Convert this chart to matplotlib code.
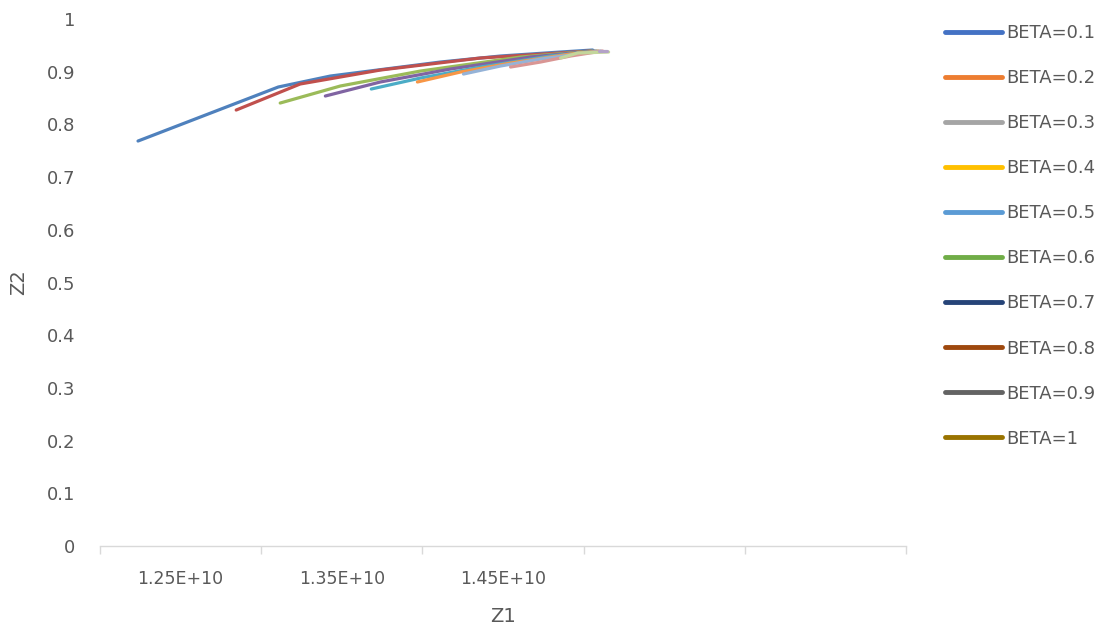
import matplotlib.pyplot as plt
from matplotlib.lines import Line2D
from matplotlib.ticker import FixedLocator, NullFormatter

# Z1 values are in units of 1E+10
labels = ["BETA=0.1", "BETA=0.2", "BETA=0.3", "BETA=0.4", "BETA=0.5",
          "BETA=0.6", "BETA=0.7", "BETA=0.8", "BETA=0.9", "BETA=1"]

z1_b01 = [1.2236, 1.3106, 1.3429, 1.3770, 1.4112, 1.4484, 1.4857, 1.5056]
z2_b01 = [0.7685, 0.8710, 0.8918, 0.9051, 0.9184, 0.9298, 0.9374, 0.9412]
z1_b02 = [1.2845, 1.3242, 1.3739, 1.4360, 1.5043]
z2_b02 = [0.8273, 0.8767, 0.9032, 0.9260, 0.9393]
z1_b03 = [1.3118, 1.3491, 1.3988, 1.4609, 1.5056]
z2_b03 = [0.8406, 0.8729, 0.9013, 0.9279, 0.9393]
z1_b04 = [1.3398, 1.3739, 1.4174, 1.4671, 1.5068]
z2_b04 = [0.8539, 0.8805, 0.9051, 0.9279, 0.9393]
z1_b05 = [1.3683, 1.3988, 1.4360, 1.4795, 1.5081]
z2_b05 = [0.8672, 0.8880, 0.9089, 0.9298, 0.9393]
z1_b06 = [1.3969, 1.4236, 1.4547, 1.4919, 1.5093]
z2_b06 = [0.8805, 0.8994, 0.9165, 0.9336, 0.9393]
z1_b07 = [1.4255, 1.4484, 1.4733, 1.5106]
z2_b07 = [0.8956, 0.9108, 0.9241, 0.9393]
z1_b08 = [1.4547, 1.4733, 1.4919, 1.5118]
z2_b08 = [0.9089, 0.9184, 0.9298, 0.9393]
z1_b09 = [1.4857, 1.4963, 1.5155]
z2_b09 = [0.9260, 0.9355, 0.9374]
z1_b10 = [1.5093, 1.5143]
z2_b10 = [0.9393, 0.9393]

z1_all = [z1_b01, z1_b02, z1_b03, z1_b04, z1_b05, z1_b06, z1_b07, z1_b08, z1_b09, z1_b10]
z2_all = [z2_b01, z2_b02, z2_b03, z2_b04, z2_b05, z2_b06, z2_b07, z2_b08, z2_b09, z2_b10]

x_labels = ["1.25E+10", "1.35E+10", "1.45E+10"]
x_label_pos = [1.25e10, 1.35e10, 1.45e10]

line_colors = ["#4F81BD", "#C0504D", "#9BBB59", "#8064A2", "#4BACC6",
               "#F79646", "#95B3D7", "#D99694", "#C3D69B", "#B3A2C7"]
legend_colors = ["#4472C4", "#ED7D31", "#A5A5A5", "#FFC000", "#5B9BD5",
                 "#70AD47", "#264478", "#9E480E", "#636363", "#997300"]

txt = "#595959"
plt.rcParams['font.family'] = ['DejaVu Sans']

fig = plt.figure(figsize=(11.01, 6.30), dpi=100)
ax = fig.add_axes([0.0908, 0.1333, 0.8229 - 0.0908, 0.9698 - 0.1333])

for xs, ys, c in zip(z1_all, z2_all, line_colors):
    ax.plot([v * 1e10 for v in xs], ys, color=c, lw=2.3,
            solid_capstyle='round', solid_joinstyle='round')

ax.set_xlim(1.2e10, 1.7e10)
ax.set_ylim(0, 1)

# boundary ticks on the axis, labels centred between them
ax.xaxis.set_major_locator(FixedLocator([1.2e10, 1.3e10, 1.4e10, 1.5e10, 1.6e10, 1.7e10]))
ax.xaxis.set_major_formatter(NullFormatter())
ax.set_xticks(x_label_pos, x_labels, minor=True)
ax.tick_params(axis='x', which='major', length=6, width=1, color='#D9D9D9', direction='out')
ax.tick_params(axis='x', which='minor', length=0, pad=17, labelsize=12.5, labelcolor=txt)

ax.set_yticks([i / 10 for i in range(11)])
ax.set_yticklabels(["0", "0.1", "0.2", "0.3", "0.4", "0.5", "0.6", "0.7", "0.8", "0.9", "1"])
ax.tick_params(axis='y', length=0, pad=18, labelsize=13, labelcolor=txt)

for s in ['top', 'right', 'left']:
    ax.spines[s].set_visible(False)
ax.spines['bottom'].set_color('#D9D9D9')
ax.spines['bottom'].set_linewidth(1)

ax.set_xlabel("Z1", fontsize=14, color=txt, labelpad=14)
ax.set_ylabel("Z2", fontsize=14, color=txt, labelpad=13)

handles = [Line2D([], [], color=c, lw=3.5, solid_capstyle='round') for c in legend_colors]
leg = fig.legend(handles, labels, loc='upper left', bbox_to_anchor=(0.8583, 0.962),
                 frameon=False, fontsize=13, handlelength=3.15, handletextpad=0.22,
                 labelspacing=1.5, borderpad=0, borderaxespad=0, labelcolor=txt)

fig.savefig("out.png", dpi=100)
